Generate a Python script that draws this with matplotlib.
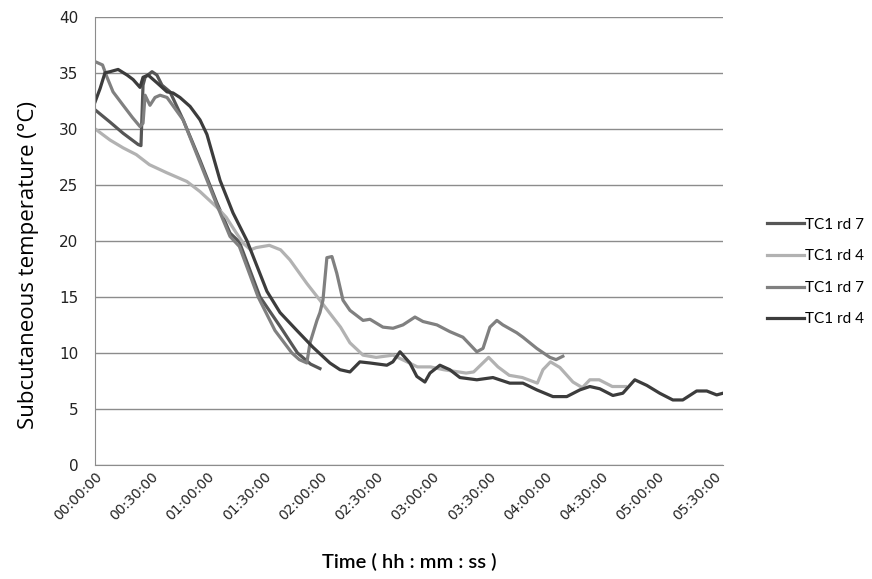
import matplotlib.pyplot as plt

# time in minutes from start, temperature in degC
t_rd7_a = [0, 8, 15, 23, 24.5, 25.6, 26.7, 30.4, 33, 35.7, 40, 47, 56, 65, 72,
           77, 88, 99, 108, 115, 120]
v_rd7_a = [31.7, 30.6, 29.6, 28.6, 28.5, 33.9, 34.6, 35.1, 34.8, 33.9, 33.3,
           30.8, 27.2, 23.4, 20.7, 19.9, 15.0, 12.3, 10.0, 9.0, 8.6]

t_rd4_a = [0, 8, 15, 22, 29, 38, 49, 56, 65, 70, 75, 79, 83, 86, 93, 99, 104,
           113, 120, 125, 131, 136, 143, 150, 159, 164, 172, 179, 186, 198, 202,
           210, 215, 221, 228, 236, 239, 243, 248, 255, 260, 264, 269, 276, 283]
v_rd4_a = [30.0, 29.0, 28.3, 27.7, 26.8, 26.1, 25.3, 24.4, 23.0, 22.1, 20.8,
           19.8, 19.2, 19.4, 19.6, 19.2, 18.3, 16.2, 14.7, 13.6, 12.3, 10.9, 9.8,
           9.6, 9.8, 9.4, 8.75, 8.75, 8.5, 8.2, 8.3, 9.6, 8.75, 8.0, 7.8, 7.3,
           8.5, 9.2, 8.7, 7.4, 6.9, 7.6, 7.6, 7.0, 7.0]

t_rd7_b = [0, 4, 6.4, 9.6, 15, 20, 24, 25.6, 26.7, 29.3, 32, 34.7, 38.4, 42.7,
           47, 56, 65, 72, 77, 87, 96, 105, 109, 113, 114.7, 118.4, 120, 121.6,
           123.7, 126.4, 129, 132.3, 136, 143, 146.7, 153.6, 159, 164.3, 170.7,
           175, 182.4, 189.3, 196.3, 203.7, 207, 210.7, 214.4, 217.6, 225, 228.3,
           235.7, 242.7, 246, 249.6]
v_rd7_b = [36.0, 35.7, 34.6, 33.3, 32.1, 31.0, 30.2, 30.5, 33.0, 32.1, 32.8,
           33.0, 32.8, 31.8, 30.8, 27.0, 23.2, 20.4, 19.5, 15.0, 12.0, 10.0, 9.4,
           9.1, 10.9, 12.9, 13.6, 14.7, 18.5, 18.6, 17.1, 14.7, 13.8, 12.9, 13.0,
           12.3, 12.2, 12.5, 13.2, 12.8, 12.5, 11.9, 11.4, 10.1, 10.4, 12.3, 12.9,
           12.5, 11.8, 11.4, 10.4, 9.6, 9.4, 9.7]

t_rd4_b = [0, 2.7, 5.3, 8, 12.3, 17.1, 20.3, 24, 25.6, 28.3, 33.1, 38.4, 41.6,
           45.3, 50.7, 56, 59.7, 66.7, 73.6, 81.1, 91.7, 98.7, 107.7, 116.3,
           125.3, 130.7, 136, 141.3, 146.7, 155.7, 158.9, 162.7, 168, 171.7, 176,
           178.7, 184, 189.3, 194.7, 203.7, 212.3, 221.3, 228.3, 235.7, 244.3,
           251.7, 258.7, 264, 269.3, 276.3, 281.6, 288, 294.4, 301.3, 308.3,
           313.6, 321, 326.4, 331.7, 335]
v_rd4_b = [32.4, 33.6, 35.0, 35.1, 35.3, 34.8, 34.4, 33.7, 34.6, 34.8, 34.1,
           33.3, 33.2, 32.8, 32.0, 30.8, 29.5, 25.4, 22.5, 20.0, 15.5, 13.6, 12.0,
           10.5, 9.1, 8.5, 8.3, 9.2, 9.1, 8.9, 9.2, 10.1, 9.1, 7.9, 7.4, 8.2, 8.9,
           8.5, 7.8, 7.6, 7.8, 7.3, 7.3, 6.7, 6.1, 6.1, 6.7, 7.0, 6.8, 6.2, 6.4,
           7.6, 7.1, 6.4, 5.8, 5.8, 6.6, 6.6, 6.25, 6.4]

labels = ["TC1 rd 7", "TC1 rd 4", "TC1 rd 7", "TC1 rd 4"]
tick_min = list(range(0, 331, 30))
tick_txt = ["%02d:%02d:00" % (m // 60, m % 60) for m in tick_min]

fig = plt.figure(figsize=(8.72, 5.79), dpi=100)
ax = fig.add_axes([0.109, 0.197, 0.72, 0.774])

ax.plot(t_rd7_a, v_rd7_a, color="#565656", lw=2.3, label=labels[0])
ax.plot(t_rd4_a, v_rd4_a, color="#b2b2b2", lw=2.3, label=labels[1])
ax.plot(t_rd7_b, v_rd7_b, color="#808080", lw=2.3, label=labels[2])
ax.plot(t_rd4_b, v_rd4_b, color="#3c3c3c", lw=2.3, label=labels[3])

ax.set_xlim(0, 335)
ax.set_ylim(0, 40)
ax.set_yticks(range(0, 41, 5))
ax.set_xticks(tick_min)
ax.set_xticklabels(tick_txt, rotation=45, ha="right", rotation_mode="anchor",
                   fontsize=10, family="DejaVu Sans", color="#222222")
ax.tick_params(axis="x", length=0, pad=3)
ax.tick_params(axis="y", length=0, pad=12, labelsize=11, labelcolor="#222222")
ax.grid(axis="y", color="#8c8c8c", lw=1)
ax.set_axisbelow(True)
for s in ["top", "right"]:
    ax.spines[s].set_visible(False)
ax.spines["left"].set_color("#8c8c8c")
ax.spines["bottom"].set_color("#8c8c8c")

ax.set_ylabel("Subcutaneous temperature (°C)", fontsize=16, family="Open Sans")
ax.yaxis.set_label_coords(-0.09, 0.446)
ax.set_xlabel("Time ( hh : mm : ss )", fontsize=14.5, family="Lato",
              fontweight="semibold", labelpad=22)

fig.legend(loc="center left", bbox_to_anchor=(0.864, 0.53), frameon=False,
           handlelength=2.4, labelspacing=1.15, handletextpad=0.1,
           prop={"family": "Lato", "size": 11})

fig.savefig("out.png", dpi=100)
